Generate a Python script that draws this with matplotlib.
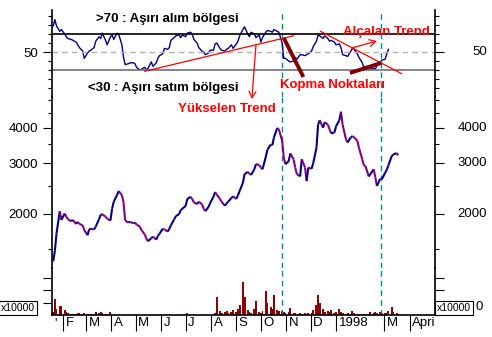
import numpy as np
import pandas as pd
import matplotlib
matplotlib.use("Agg")
import matplotlib.pyplot as plt
import matplotlib.dates as mdates
import matplotlib.transforms as mtransforms
from matplotlib.collections import LineCollection
from matplotlib.ticker import FixedLocator, NullFormatter, FuncFormatter

plt.rcParams['font.family'] = ['Liberation Sans', 'DejaVu Sans']

# one value every 2nd trading day, starting here
start_day = "1997-01-20"

price = [1360, 1480, 1700, 2040, 1900, 2000, 1950, 1910, 1880, 1900,
         1840, 1870, 1840, 1820, 1750, 1680, 1760, 1770, 1760, 1800,
         1910, 1980, 1990, 1950, 1920, 1890, 2080, 2200, 2320, 2400,
         2320, 2190, 1890, 1860, 1870, 1850, 1860, 1830, 1800, 1750,
         1690, 1630, 1600, 1640, 1660, 1620, 1670, 1700, 1770, 1760,
         1730, 1770, 1820, 1910, 1960, 1990, 2060, 2080, 2130, 2250,
         2290, 2250, 2190, 2160, 2200, 2160, 2080, 2040, 2110, 2180,
         2290, 2380, 2330, 2250, 2200, 2130, 2170, 2200, 2270, 2300,
         2250, 2320, 2400, 2560, 2750, 2800, 2760, 2730, 2860, 2980,
         2960, 2900, 2860, 3160, 3350, 3490, 3470, 3700, 3990, 3950,
         3600, 3150, 2980, 3050, 3250, 3100, 2900, 2750, 2700, 3100,
         2900, 2600, 2900, 2870, 3000, 3400, 4100, 4250, 4000, 4180,
         4100, 3950, 3820, 3850, 4050, 4250, 4550, 4100, 3650, 3550,
         3700, 3740, 3700, 3600, 3400, 3100, 2950, 2930, 2700, 2750,
         2860, 2680, 2500, 2650, 2640, 2780, 2850, 2950, 3180, 3220,
         3260, 3200]

rsi = [79, 86, 79, 73, 75, 70, 67, 65, 64, 63,
       61, 58, 55, 51, 43, 49, 51, 52, 55, 62,
       67, 65, 71, 63, 58, 67, 69, 64, 71, 70,
       58, 44, 36, 37, 38, 38, 37, 33, 30, 31,
       33, 30, 32, 39, 34, 38, 43, 46, 48, 54,
       53, 55, 63, 66, 68, 69, 66, 69, 67, 71,
       72, 70, 64, 60, 55, 51, 50, 47, 49, 52,
       52, 59, 60, 54, 52, 51, 53, 54, 58, 54,
       59, 62, 68, 75, 78, 70, 67, 72, 70, 66,
       69, 61, 66, 72, 74, 73, 72, 75, 73, 72,
       60, 43, 43, 40, 39, 40, 44, 42, 47, 47,
       46, 47, 48, 51, 56, 62, 69, 68, 65, 68,
       65, 62, 63, 61, 58, 59, 55, 47, 46, 45,
       51, 54, 53, 48, 44, 38, 33, 34, 32, 31,
       32, 31, 35, 38, 41, 42, 48, 53]

# x10000
volume = [24, 128, 48, 72, 72, 40, 24, 16, 8, 8,
          8, 16, 16, 8, 16, 8, 8, 8, 8, 24,
          16, 24, 16, 8, 8, 24, 4, 0, 4, 0,
          0, 4, 0, 0, 4, 0, 0, 0, 4, 0,
          0, 4, 0, 0, 0, 4, 0, 0, 0, 0,
          4, 0, 0, 0, 0, 0, 0, 4, 0, 16,
          0, 4, 0, 0, 0, 4, 0, 0, 4, 0,
          4, 16, 144, 32, 16, 24, 32, 16, 24, 40,
          24, 48, 80, 264, 144, 40, 24, 16, 48, 112,
          24, 16, 32, 192, 96, 64, 48, 160, 40, 32,
          32, 24, 16, 24, 56, 16, 16, 8, 16, 8,
          16, 8, 16, 16, 40, 80, 160, 96, 48, 24,
          32, 24, 40, 16, 24, 48, 24, 16, 8, 16,
          8, 32, 16, 8, 8, 8, 8, 8, 8, 24,
          16, 24, 16, 24, 16, 16, 16, 32, 64, 24,
          16, 8]

month_ticks = ["1997-02-01", "1997-03-01", "1997-04-01", "1997-05-01",
               "1997-06-01", "1997-07-01", "1997-08-01", "1997-09-01",
               "1997-10-01", "1997-11-01", "1997-12-01", "1998-01-01",
               "1998-03-01", "1998-04-01"]
month_labels = ["F", "M", "A", "M", "J", "J", "A", "S", "O", "N", "D",
                "1998", "M", "Apri"]

rsi_ticks = [50]
price_ticks = [2000, 3000, 4000]
break_days = ["1997-10-27", "1998-02-25"]

rise_trend = (["1997-05-12", "1997-11-10"], [28.6, 68])
fall_trend = (["1997-12-13", "1998-03-22"], [73, 26])
break_marks = [(["1997-10-29", "1997-11-22"], [65.6, 22.2]),
               (["1998-01-18", "1998-02-25"], [26.7, 37.8])]


def num(d):
    return mdates.date2num(pd.Timestamp(d))


dates = pd.bdate_range(start_day, periods=2 * len(price))[::2]
xd = mdates.date2num(dates)

W, H = 492, 337
fig = plt.figure(figsize=(W / 100, H / 100), dpi=100)
fig.patch.set_facecolor("white")


def panel(top, bottom):
    return [52 / W, (H - bottom) / H, 383 / W, (bottom - top) / H]


ax_r = fig.add_axes(panel(10, 97))
ax_p = fig.add_axes(panel(97, 268), sharex=ax_r)
ax_v = fig.add_axes(panel(268, 315), sharex=ax_r)
axes = [ax_r, ax_p, ax_v]
ax_r.set_zorder(3)

for ax in axes:
    ax.set_facecolor("none")
    ax.spines["top"].set_visible(False)
    ax.spines["bottom"].set_visible(ax is ax_v)
    ax.spines["left"].set_linewidth(1.2)
    ax.spines["right"].set_linewidth(1.2)
    ax.tick_params(axis="y", which="both", direction="out", left=True, right=True,
                   labelright=False, colors="black")
    ax.tick_params(axis="y", which="major", length=6.5, width=0.8, pad=3.5, labelsize=9.5)
    ax.tick_params(axis="y", which="minor", length=3, width=0.8)
    for d in break_days:
        ax.axvline(num(d), color="#008b8b", lw=1.0, ls=(0, (4, 3)))

ax_r.set_xlim(num("1997-01-18 12:00"), num("1998-05-02"))

# RSI panel
ax_r.set_ylim(0, 96.7)
ax_r.plot(xd[:len(rsi)], rsi, color="#000080", lw=1.0)
ax_r.axhline(70, color="black", lw=1.2)
ax_r.axhline(30, color="#707070", lw=1.2)
ax_r.axhline(50, color="#b0b0b0", lw=1.0, ls=(0, (4, 3)))
ax_r.yaxis.set_major_locator(FixedLocator(rsi_ticks))
ax_r.yaxis.set_minor_locator(FixedLocator([10, 20, 30, 40, 60, 70, 80, 90]))
ax_r.yaxis.set_minor_formatter(NullFormatter())

# price panel, up moves blue, down moves purple
ax_p.set_yscale("log")
ax_p.set_ylim(1289, 5125)
pts = np.column_stack([xd, price])
segs = np.stack([pts[:-1], pts[1:]], axis=1)
cols = ["#000080" if b >= a else "#800080" for a, b in zip(price[:-1], price[1:])]
ax_p.add_collection(LineCollection(segs, colors=cols, linewidths=1.5))
ax_p.yaxis.set_major_locator(FixedLocator(price_ticks))
ax_p.yaxis.set_major_formatter(FuncFormatter(lambda v, pos: f"{v:.0f}"))
ax_p.yaxis.set_minor_locator(FixedLocator([1500, 2500, 3500, 4500, 5000]))
ax_p.yaxis.set_minor_formatter(NullFormatter())

# volume panel
ax_v.set_ylim(0, 376)
ax_v.bar(xd[:len(volume)], volume, width=2.4, color="#8b0000", linewidth=0)
ax_v.yaxis.set_major_locator(FixedLocator([100, 200, 300]))
ax_v.yaxis.set_major_formatter(NullFormatter())
ax_v.spines["bottom"].set_linewidth(1.2)

# right-hand labels, right aligned to the picture edge
for ax, ticks in [(ax_r, rsi_ticks), (ax_p, price_ticks)]:
    tr = mtransforms.blended_transform_factory(ax.transAxes, ax.transData)
    for v in ticks:
        ax.text(1.136, v, f"{v}", transform=tr, ha="right", va="center", fontsize=9.5)

# month axis
ax_v.xaxis.set_major_locator(FixedLocator([num(d) for d in month_ticks]))
ax_v.xaxis.set_major_formatter(NullFormatter())
for ax in [ax_r, ax_p]:
    ax.tick_params(axis="x", which="both", bottom=False, top=False, labelbottom=False)
ax_v.tick_params(axis="x", which="major", direction="out", length=11.5, width=0.8, top=False)
lab_tr = mtransforms.offset_copy(ax_v.get_xaxis_transform(), fig=fig, x=2.5, y=-8, units="dots")
for d, lab in zip(month_ticks, month_labels):
    ax_v.text(num(d), 0, lab, transform=lab_tr, ha="left", va="center", fontsize=9.5)
ax_v.text(ax_v.get_xlim()[0], 0, "'", transform=lab_tr, ha="left", va="center", fontsize=9.5)

fig.text(1 / W, (H - 308) / H, "x10000", fontsize=7.5, ha="left", va="center",
         bbox=dict(boxstyle="square,pad=0.15", fc="white", ec="black", lw=0.8))
fig.text(437 / W, (H - 308) / H, "x10000", fontsize=7.5, ha="left", va="center",
         bbox=dict(boxstyle="square,pad=0.15", fc="white", ec="black", lw=0.8))
fig.text(476 / W, (H - 307) / H, "0", fontsize=9.5, ha="left", va="center")

# annotations
red = "#ff0000"
bold = dict(fontsize=9.5, fontweight="bold", ha="center", va="center")
ax_r.text(num("1997-06-09"), 87, ">70 : Aşırı alım bölgesi", color="black", **bold)
ax_r.text(num("1997-06-04"), 10, "<30 : Aşırı satım bölgesi", color="black", **bold)
ax_r.text(num("1997-08-21"), -12.8, "Yükselen Trend", color=red, **bold)
ax_r.text(num("1997-12-27"), 13.3, "Kopma Noktaları", color=red, **bold)
ax_r.text(num("1998-03-03"), 72.2, "Alçalan Trend", color=red, **bold)

for xs, ys in [rise_trend, fall_trend]:
    ax_r.plot([num(d) for d in xs], ys, color=red, lw=0.9, clip_on=False)
for xs, ys in break_marks:
    ax_r.plot([num(d) for d in xs], ys, color="#800000", lw=2.8,
              solid_capstyle="butt", clip_on=False)

arrow = dict(arrowstyle="->,head_length=0.45,head_width=0.25", color=red, lw=0.9,
             shrinkA=0, shrinkB=0)
ax_r.annotate("", xy=(num("1997-09-20"), -2.2), xytext=(num("1997-09-25"), 57.8),
              arrowprops=arrow, annotation_clip=False)
ax_r.annotate("", xy=(num("1998-02-20"), 62.2), xytext=(num("1998-01-20"), 54.4),
              arrowprops=arrow, annotation_clip=False)

fig.savefig("out.png", dpi=100)
